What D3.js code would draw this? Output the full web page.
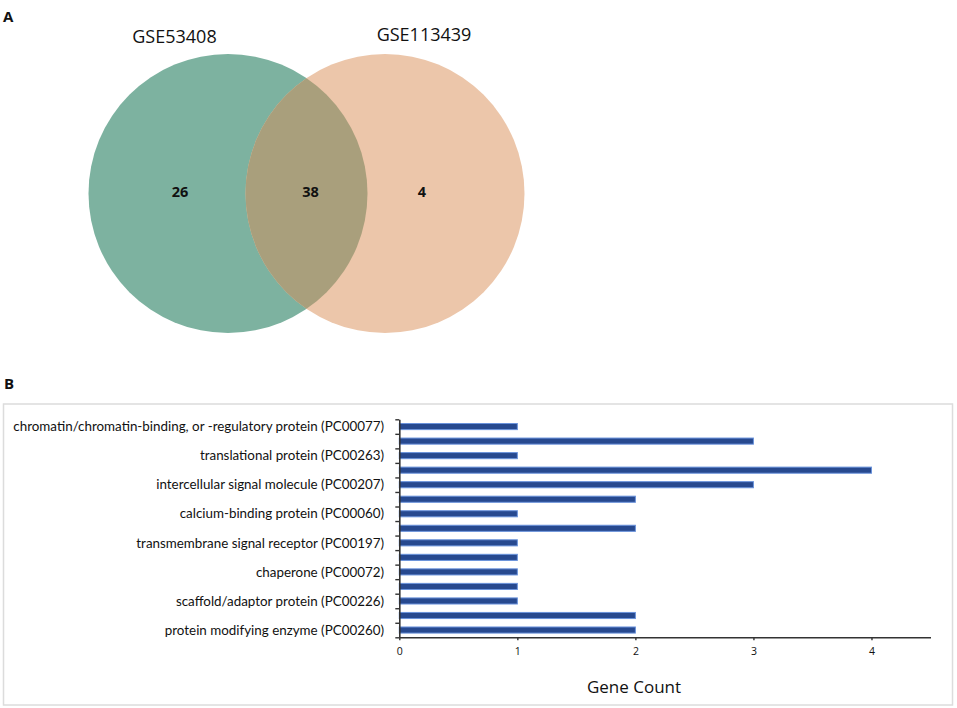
<!DOCTYPE html>
<html><head><meta charset="utf-8">
<script src="https://cdn.jsdelivr.net/npm/d3@7"></script>
<style>
body{margin:0;background:#fff}
svg{display:block}
text{font-family:"Open Sans",sans-serif;fill:#111}
</style>
</head><body>
<svg id="c" width="957" height="708"></svg>
<script>
// ---- data ----
const vennSets = ["GSE53408", "GSE113439"];
const vennRegions = ["GSE53408 only", "both", "GSE113439 only"];
const vennCounts = [26, 38, 4];
const categories = [
  "chromatin/chromatin-binding, or -regulatory protein (PC00077)", "",
  "translational protein (PC00263)", "",
  "intercellular signal molecule (PC00207)", "",
  "calcium-binding protein (PC00060)", "",
  "transmembrane signal receptor (PC00197)", "",
  "chaperone (PC00072)", "",
  "scaffold/adaptor protein (PC00226)", "",
  "protein modifying enzyme (PC00260)"
];
const geneCounts = [1, 3, 1, 4, 3, 2, 1, 2, 1, 1, 1, 1, 1, 2, 2];
const xTicks = [0, 1, 2, 3, 4];

const svg = d3.select("#c");

// ---- panel letters ----
svg.append("text").attr("x", 3).attr("y", 22).attr("font-size", 15).attr("font-weight", "bold").text("A");
svg.append("text").attr("x", 4).attr("y", 389).attr("font-size", 15).attr("font-weight", "bold").text("B");

// ---- Venn (panel A) ----
const vx = d3.scaleLinear().domain([-1, 1]).range([228, 385]);
const cy = 193.5, r = 139.5;
const colors = ["#7db2a0", "#ecc6aa"];
const defs = svg.append("defs");
defs.append("clipPath").attr("id", "clipL").append("circle")
  .attr("cx", vx(-1)).attr("cy", cy).attr("r", r);
const venn = svg.append("g");
venn.selectAll("circle.set").data(vennSets).join("circle")
  .attr("class", "set")
  .attr("cx", (d, i) => vx(i === 0 ? -1 : 1)).attr("cy", cy).attr("r", r)
  .attr("fill", (d, i) => colors[i]);
venn.append("circle").attr("clip-path", "url(#clipL)")
  .attr("cx", vx(1)).attr("cy", cy).attr("r", r).attr("fill", "#a99f7c");

// set labels
const labelX = [vx(-1) - 53.5, vx(1) + 39];
const labelY = [43, 41];
venn.selectAll("text.setlab").data(vennSets).join("text")
  .attr("class", "setlab")
  .attr("x", (d, i) => labelX[i]).attr("y", (d, i) => labelY[i])
  .attr("text-anchor", "middle").attr("font-size", 18)
  .text(d => d);

// counts
const countX = [vx(-1) - 48, vx(0) + 4, vx(1) + 37];
venn.selectAll("text.cnt").data(vennCounts).join("text")
  .attr("class", "cnt")
  .attr("x", (d, i) => countX[i]).attr("y", cy - 2)
  .attr("dy", "0.35em")
  .attr("text-anchor", "middle").attr("font-size", 14.5).attr("font-weight", "bold")
  .text(d => d);

// ---- Bar chart (panel B) ----
svg.append("rect").attr("x", 3.5).attr("y", 404).attr("width", 949).attr("height", 301)
  .attr("fill", "none").attr("stroke", "#dcdcdc").attr("stroke-width", 1.5);

const x0 = 399.3, yTop = 419.3, yBot = 637.3;
const x = d3.scaleLinear().domain([0, 4.5]).range([x0, 930.5]);
const idx = d3.range(categories.length);
const y = d3.scaleBand().domain(idx).range([yTop, yBot]).paddingInner(0.58).paddingOuter(0.29);
const yLin = d3.scaleLinear().domain([0, categories.length]).range([yTop, yBot]);

const g = svg.append("g");

// bars
g.selectAll("rect.bar").data(geneCounts).join("rect")
  .attr("class", "bar")
  .attr("x", x(0)).attr("y", (d, i) => y(i))
  .attr("width", d => x(d) - x(0)).attr("height", y.bandwidth())
  .attr("fill", "#27498f").attr("stroke", "#6a93dc").attr("stroke-width", 1);

// y axis with ticks at band boundaries
const yAxis = g.append("g").attr("transform", `translate(${x0},0)`)
  .call(d3.axisLeft(yLin).tickValues(d3.range(categories.length + 1)).tickFormat("").tickSize(4).tickSizeOuter(0));
yAxis.select(".domain").attr("stroke", "#333").attr("stroke-width", 1.6);
yAxis.selectAll(".tick line").attr("stroke", "#333").attr("stroke-width", 1.4);

// x axis
const xAxis = g.append("g").attr("transform", `translate(0,${yBot})`)
  .call(d3.axisBottom(x).tickValues(xTicks).tickFormat(d3.format("d")).tickSize(3).tickSizeOuter(0).tickPadding(7));
xAxis.select(".domain").attr("stroke", "#333").attr("stroke-width", 1.6);
xAxis.selectAll(".tick line").attr("stroke", "#333").attr("stroke-width", 1.4);
xAxis.selectAll(".tick text").attr("font-family", "Lato, sans-serif").attr("font-size", 10.5).attr("fill", "#111");

// category labels (only those shown)
const labs = g.selectAll("text.cat").data(idx.filter(i => categories[i])).join("text")
  .attr("class", "cat")
  .attr("x", 384).attr("y", i => y(i) + y.bandwidth() / 2)
  .attr("dy", "0.35em").attr("text-anchor", "end")
  .style("font-family", "Lato, sans-serif").attr("font-size", 12)
  .text(i => categories[i]);
// fit the longest label to the reference width
const longest = labs.filter(i => i === 0).node();
const w = longest.getComputedTextLength();
const fs = 12 * 371 / w;
labs.attr("font-size", fs);

// x axis title
g.append("text").attr("x", 634).attr("y", 693).attr("text-anchor", "middle")
  .attr("font-size", 17).text("Gene Count");
</script>
</body></html>
